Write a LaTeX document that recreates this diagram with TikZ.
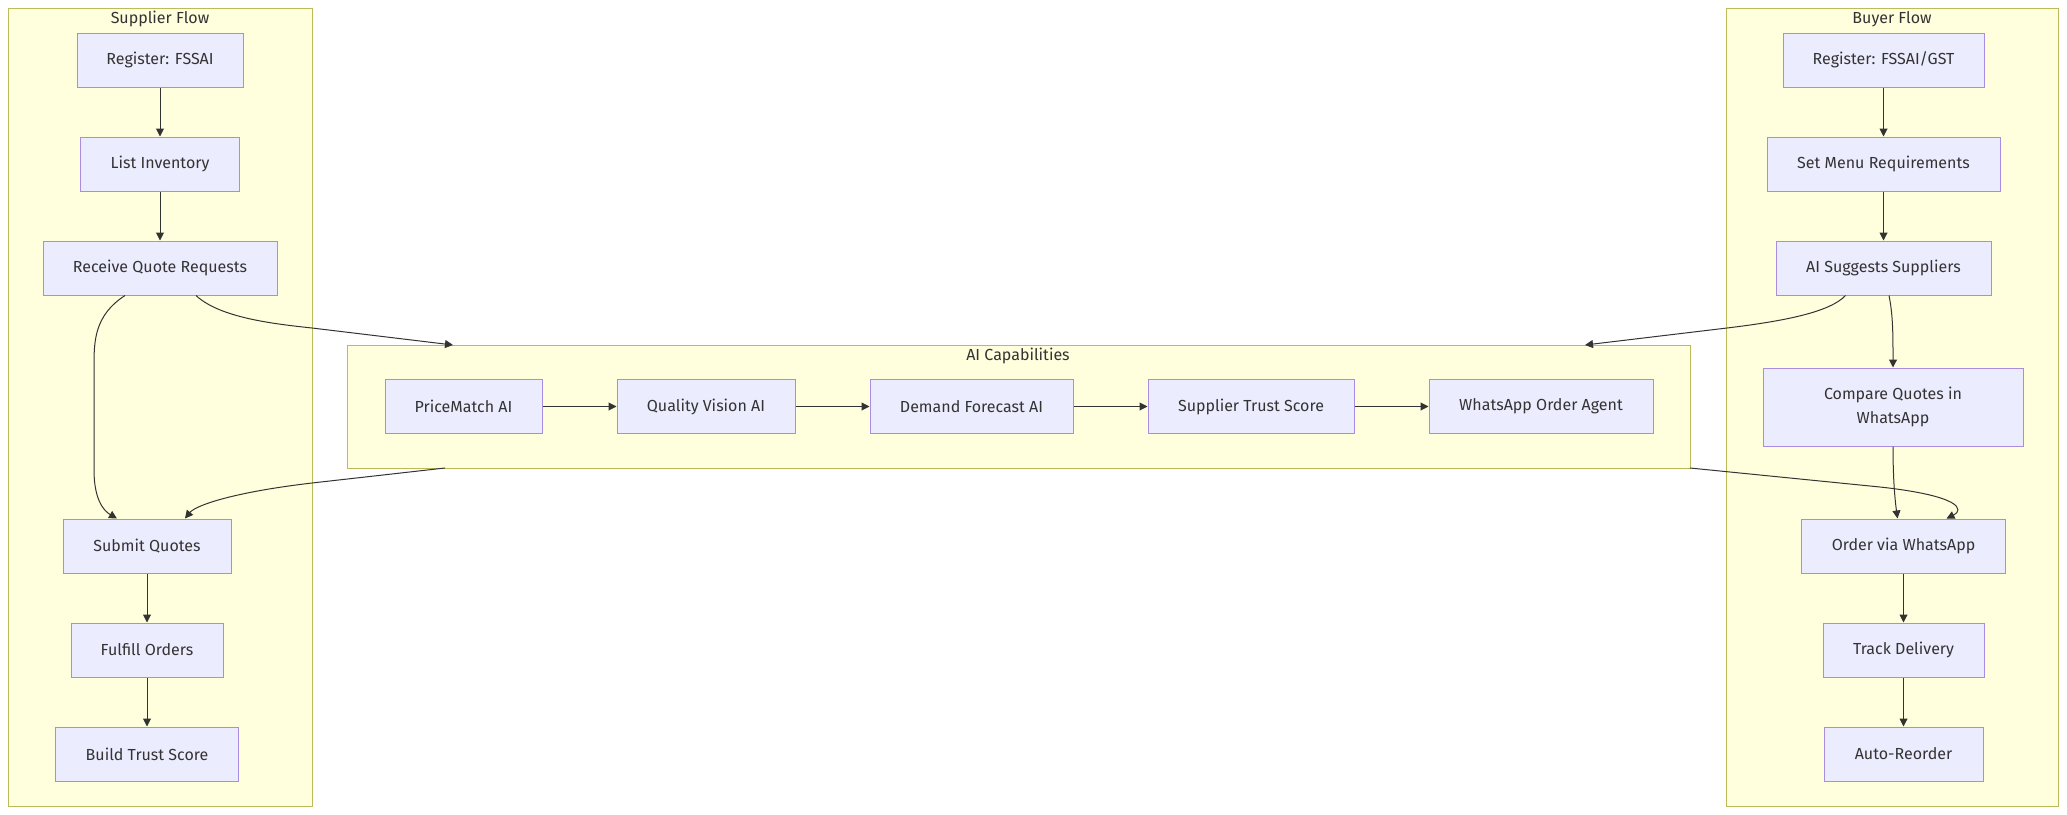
\documentclass[tikz,border=0pt]{standalone}
\usepackage{fontspec}
\setmainfont{Fira Sans}
\usetikzlibrary{arrows.meta}
\definecolor{nodefill}{HTML}{ECECFF}
\definecolor{nodeline}{HTML}{9370DB}
\definecolor{clfill}{HTML}{FFFFDE}
\definecolor{clline}{HTML}{AAAA33}
\definecolor{edge}{HTML}{333333}
\tikzset{
  box/.style={draw=nodeline!80!white, fill=nodefill, line width=1pt, text=edge, inner sep=0pt, minimum height=54pt, font=\fontsize{16pt}{24pt}\selectfont, align=center},
  cluster/.style={draw=clline!80!white, fill=clfill, line width=1pt},
  cltitle/.style={text=edge, font=\fontsize{16pt}{20pt}\selectfont, inner sep=0pt},
  conn/.style={draw=edge, line width=1pt, -{Triangle[length=8pt,width=8pt]}},
}
\begin{document}
\begin{tikzpicture}[x=1pt,y=-1pt]
\useasboundingbox (0,0) rectangle (2067,814);
\fill[white] (0,0) rectangle (2067,814);
% clusters
\draw[cluster] (8,8) rectangle (312,806);
\draw[cluster] (1726,8) rectangle (2058,806);
\draw[cluster] (347,345) rectangle (1690,468);
\node[cltitle] (tsup) at (160,19) {Supplier Flow};
\node[cltitle] (tbuy) at (1892,19) {Buyer Flow};
\node[cltitle] (tai) at (1018,356) {AI Capabilities};
\coordinate (aiTL) at (453,345);
\coordinate (aiTR) at (1585,345);
\coordinate (aiBL) at (445,468);
\coordinate (aiBR) at (1690,468);
% supplier nodes
\node[box, minimum width=166pt] (sreg) at (160,60) {Register: FSSAI};
\node[box, minimum width=159pt] (slist) at (160,164) {List Inventory};
\node[box, minimum width=234pt] (srecv) at (160,268) {Receive Quote Requests};
\node[box, minimum width=168pt] (ssub) at (147,546) {Submit Quotes};
\node[box, minimum width=152pt] (sful) at (147,650) {Fulfill Orders};
\node[box, minimum width=183pt] (sbuild) at (147,754) {Build Trust Score};
% AI nodes
\node[box, minimum width=157pt] (p1) at (463.5,406.5) {PriceMatch AI};
\node[box, minimum width=178pt] (p2) at (706,406.5) {Quality Vision AI};
\node[box, minimum width=203pt] (p3) at (971.5,406.5) {Demand Forecast AI};
\node[box, minimum width=206pt] (p4) at (1251,406.5) {Supplier Trust Score};
\node[box, minimum width=224pt] (p5) at (1541,406.5) {WhatsApp Order Agent};
% buyer nodes
\node[box, minimum width=201pt] (breg) at (1883.5,60) {Register: FSSAI/GST};
\node[box, minimum width=233pt] (bmenu) at (1883.5,164) {Set Menu Requirements};
\node[box, minimum width=215pt] (bai) at (1883.5,268) {AI Suggests Suppliers};
\node[box, minimum width=260pt, minimum height=78pt] (bcmp) at (1893,407) {Compare Quotes in\\WhatsApp};
\node[box, minimum width=204pt] (bord) at (1903.5,546) {Order via WhatsApp};
\node[box, minimum width=161pt] (btrack) at (1903.5,650) {Track Delivery};
\node[box, minimum width=159pt] (bauto) at (1903.5,754) {Auto-Reorder};
% edges supplier
\draw[conn] (sreg) -- (slist);
\draw[conn] (slist) -- (srecv);
\draw[conn] ([xshift=-35pt]srecv.south) .. controls (95,315) and (94,340) .. (94,365) -- (94,470) .. controls (94,500) and (104,511) .. ([xshift=-30pt]ssub.north);
\draw[conn] ([xshift=36pt]srecv.south) .. controls (220,318) and (275,324) .. (312,328) -- (aiTL);
\draw[conn] (aiBL) -- (312,483) .. controls (235,492) and (196,505) .. ([xshift=38pt]ssub.north);
\draw[conn] (ssub) -- (sful);
\draw[conn] (sful) -- (sbuild);
% edges AI
\draw[conn] (p1) -- (p2);
\draw[conn] (p2) -- (p3);
\draw[conn] (p3) -- (p4);
\draw[conn] (p4) -- (p5);
% edges buyer
\draw[conn] (breg) -- (bmenu);
\draw[conn] (bmenu) -- (bai);
\draw[conn] ([xshift=-38pt]bai.south) .. controls (1830,312) and (1785,321) .. (1727,328) -- (aiTR);
\draw[conn] ([xshift=5.5pt]bai.south) .. controls (1893,315) and (1893,335) .. (bcmp.north);
\draw[conn] (bcmp.south) .. controls (1893,480) and (1895,500) .. ([xshift=-6pt]bord.north);
\draw[conn] (aiBR) -- (1880,487) .. controls (1962,496) and (1964,510) .. ([xshift=43pt]bord.north);
\draw[conn] (bord) -- (btrack);
\draw[conn] (btrack) -- (bauto);
\end{tikzpicture}
\end{document}
